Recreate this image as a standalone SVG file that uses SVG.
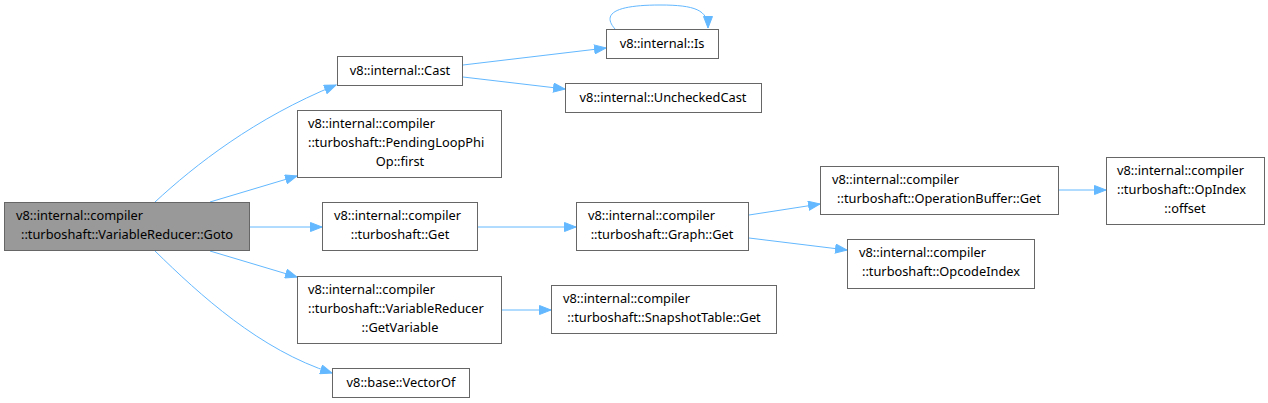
<svg xmlns="http://www.w3.org/2000/svg" width="1268" height="403" viewBox="0 0 1268 403">
<defs>
<style>
.n rect{fill:#fff;stroke:#666;stroke-width:1}
.n.hl rect{fill:#999}
.n text{font-family:"Noto Sans","Open Sans","DejaVu Sans",sans-serif;font-size:12.8px;fill:#000}
.n text.c{text-anchor:middle}
.e path{fill:none;stroke:#63b8ff;stroke-width:1}
</style>
<marker id="ah" markerUnits="userSpaceOnUse" markerWidth="13" markerHeight="10" refX="12" refY="5" orient="auto">
<path d="M0.5,0.5 L12,5 L0.5,9.5 Z" fill="#63b8ff" stroke="#63b8ff" stroke-width="1"/>
</marker>
</defs>
<rect width="1268" height="403" fill="#fff"/>
<g class="e">
<path d="M155,202 C195,165 255,118 336,85" marker-end="url(#ah)"/>
<path d="M210,202 L297,176" marker-end="url(#ah)"/>
<path d="M250,227 L322,227" marker-end="url(#ah)"/>
<path d="M210,251 L297,277" marker-end="url(#ah)"/>
<path d="M155,251 C200,295 260,350 332,373" marker-end="url(#ah)"/>
<path d="M463,65 L606,48" marker-end="url(#ah)"/>
<path d="M463,77 L565,89" marker-end="url(#ah)"/>
<path d="M615,29 C600,12 620,5 660,5 C695,5 708,10 708,28" marker-end="url(#ah)"/>
<path d="M478,227 L576,227" marker-end="url(#ah)"/>
<path d="M749,215 L820,204" marker-end="url(#ah)"/>
<path d="M749,238 L847,250" marker-end="url(#ah)"/>
<path d="M1058,190 L1106,190" marker-end="url(#ah)"/>
<path d="M502,310 L551,310" marker-end="url(#ah)"/>
</g>
<g id="goto" class="n hl"><rect x="4.5" y="202.5" width="245" height="48"/><text x="16" y="220">v8::internal::compiler</text><text class="c" x="127" y="239">::turboshaft::VariableReducer::Goto</text></g>
<g id="cast" class="n"><rect x="337.5" y="56.5" width="125" height="29"/><text class="c" x="400" y="75">v8::internal::Cast</text></g>
<g id="pending" class="n"><rect x="297.5" y="110.5" width="204" height="67"/><text x="308" y="128">v8::internal::compiler</text><text x="308" y="147">::turboshaft::PendingLoopPhi</text><text class="c" x="400" y="166">Op::first</text></g>
<g id="get" class="n"><rect x="322.5" y="202.5" width="155" height="48"/><text x="334" y="220">v8::internal::compiler</text><text class="c" x="400" y="239">::turboshaft::Get</text></g>
<g id="getvariable" class="n"><rect x="297.5" y="276.5" width="204" height="67"/><text x="308" y="294">v8::internal::compiler</text><text x="308" y="313">::turboshaft::VariableReducer</text><text class="c" x="400" y="332">::GetVariable</text></g>
<g id="vectorof" class="n"><rect x="332.5" y="368.5" width="137" height="29"/><text class="c" x="401" y="387">v8::base::VectorOf</text></g>
<g id="is" class="n"><rect x="606.5" y="29.5" width="112" height="29"/><text class="c" x="662" y="48">v8::internal::Is</text></g>
<g id="uncheckedcast" class="n"><rect x="565.5" y="83.5" width="196" height="29"/><text class="c" x="663" y="102">v8::internal::UncheckedCast</text></g>
<g id="graphget" class="n"><rect x="576.5" y="202.5" width="172" height="48"/><text x="588" y="220">v8::internal::compiler</text><text class="c" x="662" y="239">::turboshaft::Graph::Get</text></g>
<g id="snapshot" class="n"><rect x="551.5" y="285.5" width="225" height="48"/><text x="563" y="303">v8::internal::compiler</text><text class="c" x="664" y="322">::turboshaft::SnapshotTable::Get</text></g>
<g id="opbuffer" class="n"><rect x="820.5" y="166.5" width="238" height="48"/><text x="832" y="184">v8::internal::compiler</text><text class="c" x="939" y="203">::turboshaft::OperationBuffer::Get</text></g>
<g id="opcodeindex" class="n"><rect x="847.5" y="239.5" width="187" height="49"/><text x="859" y="257">v8::internal::compiler</text><text class="c" x="941" y="276">::turboshaft::OpcodeIndex</text></g>
<g id="offset" class="n"><rect x="1106.5" y="157.5" width="158" height="67"/><text x="1117" y="175">v8::internal::compiler</text><text x="1117" y="194">::turboshaft::OpIndex</text><text class="c" x="1185" y="213">::offset</text></g>
</svg>
